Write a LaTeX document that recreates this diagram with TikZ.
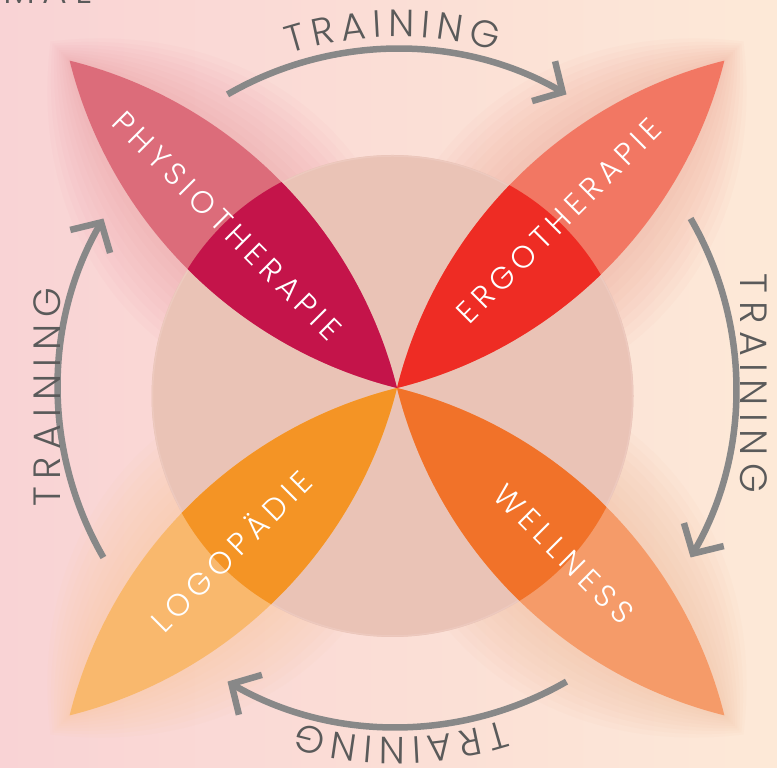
\documentclass[tikz,border=0pt]{standalone}
\usepackage{fontspec}
\newfontfamily\thinfont{Poppins Light}[LetterSpace=20]
\newfontfamily\labfont{Poppins Light}[LetterSpace=18]
\newfontfamily\arcfont{Poppins Light}
\usetikzlibrary{arrows.meta,decorations.text,calc}
\definecolor{bgL}{HTML}{F9D3D5}
\definecolor{bgR}{HTML}{FDE9D7}
\definecolor{circ}{HTML}{EAC3B6}
\definecolor{circedge}{HTML}{EDC9BE}
\definecolor{phyO}{HTML}{DC6C7A}
\definecolor{phyI}{HTML}{C4144A}
\definecolor{ergO}{HTML}{F27763}
\definecolor{ergI}{HTML}{EE2C24}
\definecolor{logO}{HTML}{F9B86D}
\definecolor{logI}{HTML}{F49425}
\definecolor{welO}{HTML}{F59B69}
\definecolor{welI}{HTML}{F17229}
\definecolor{arrgray}{HTML}{888888}
\definecolor{txtgray}{HTML}{5A5A5A}
\newcommand\petallens{(0,0) .. controls (142,85.3) and (321,85.3) .. (463,0) .. controls (321,-85.3) and (142,-85.3) .. (0,0)}
\newcommand\glowpetal[2]{%
  \foreach \k in {1,...,9} {
    \pgfmathsetmacro\aa{-3*\k}
    \pgfmathsetmacro\bb{463+3*\k}
    \pgfmathsetmacro\hh{(64+8*\k)*4/3}
    \pgfmathsetmacro\ca{\aa+142}
    \pgfmathsetmacro\cb{\bb-142}
    \fill[#2, opacity=0.03, shift={(C)}, rotate=#1] (\aa,0) .. controls (\ca,\hh) and (\cb,\hh) .. (\bb,0) .. controls (\cb,-\hh) and (\ca,-\hh) .. (\aa,0);
  }}
\newcommand\drawpetal[3]{%
  \fill[#2, shift={(C)}, rotate=#1] \petallens;
  \begin{scope}
    \clip (O) circle[radius=241];
    \fill[#3, shift={(C)}, rotate=#1] \petallens;
  \end{scope}}
\tikzset{
  arr/.style={draw=arrgray, line width=6.5pt, -{Straight Barb[length=22pt,width=46pt]}},
  trnfont/.style={font=\thinfont\fontsize{38}{38}\selectfont, text=txtgray, inner sep=0pt},
  lab/.style={font=\labfont\fontsize{31}{31}\selectfont, text=white, inner sep=0pt},
  arctext/.style={decorate, decoration={text along path, text align=fit to path,
    text={|\arcfont\fontsize{38}{38}\selectfont\color{txtgray}|TRAINING}}}
}
\begin{document}
\begin{tikzpicture}[x=1pt,y=1pt]
\useasboundingbox (0,0) rectangle (777,768);
\clip (0,0) rectangle (777,768);
\shade[left color=bgL, right color=bgR] (0,0) rectangle (777,768);
\coordinate (C) at (397,380);
\coordinate (O) at (392.5,372);
% glows
\glowpetal{135}{phyO}
\glowpetal{45}{ergO}
\glowpetal{225}{logO}
\glowpetal{-45}{welO}
% circle
\fill[circ] (O) circle[radius=241];
\draw[circedge, line width=1.5pt] (O) circle[radius=240];
% petals
\drawpetal{135}{phyO}{phyI}
\drawpetal{45}{ergO}{ergI}
\drawpetal{225}{logO}{logI}
\drawpetal{-45}{welO}{welI}
% labels
\node[lab, rotate=-45] (phy) at (227,542) {PHYSIOTHERAPIE};
\node[lab, rotate=45] (erg) at (559,547) {ERGOTHERAPIE};
\node[lab, rotate=45] (log) at (230,218) {LOGOPÄDIE};
\node[lab, rotate=-45] (wel) at (564,214) {WELLNESS};
% arrows
\draw[arr] (C) ++(120:339) arc[start angle=120, end angle=60, radius=339];
\draw[arr] (C) ++(30:339) arc[start angle=30, end angle=-30, radius=339];
\draw[arr] (C) ++(-60:339) arc[start angle=-60, end angle=-120, radius=339];
\draw[arr] (C) ++(210:339) arc[start angle=210, end angle=150, radius=339];
% training texts
\path[arctext] (C) ++(107.75:351) arc[start angle=107.75, end angle=73.65, radius=351];
\path[arctext] (C) ++(-72.3:349) arc[start angle=-72.3, end angle=-106.4, radius=349];
\node[trnfont, rotate=-90, anchor=base] (tr) at (740,384.5) {TRAINING};
\node[trnfont, rotate=90, anchor=base] (tl) at (60,371) {TRAINING};
\node[trnfont, anchor=base west] (mal) at (3,764) {MAL};
\end{tikzpicture}
\end{document}
